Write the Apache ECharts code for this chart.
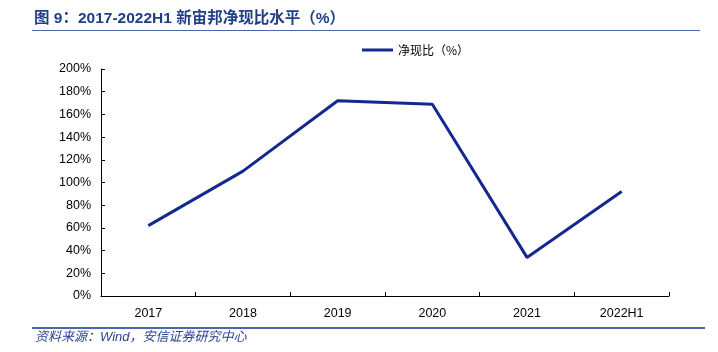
<!DOCTYPE html>
<html>
<head>
<meta charset="utf-8">
<script src="https://cdn.jsdelivr.net/npm/echarts@6/dist/echarts.min.js"></script>
<style>
  html, body { margin: 0; padding: 0; background: #fff; }
  #chart { width: 718px; height: 352px; }
</style>
</head>
<body>
<div id="chart"></div>
<script>
const categories = ['2017', '2018', '2019', '2020', '2021', '2022H1'];
const cashRatio = [62, 110, 172, 169, 34, 92];
const yTicks = [0, 20, 40, 60, 80, 100, 120, 140, 160, 180, 200];

const chart = echarts.init(document.getElementById('chart'));

chart.setOption({
  animation: false,
  title: {
    text: '图 9：2017-2022H1 新宙邦净现比水平（%）',
    left: 34,
    top: 11,
    padding: 0,
    textStyle: {
      fontSize: 15.5,
      fontWeight: 'bold',
      color: '#203f87',
      fontFamily: 'Liberation Sans, Noto Sans CJK SC, sans-serif'
    }
  },
  graphic: [
    { type: 'rect', shape: { x: 32, y: 30, width: 668, height: 1 }, style: { fill: '#4a67ad' } },
    { type: 'rect', shape: { x: 32, y: 327, width: 673, height: 2 }, style: { fill: '#4a67ad' } },
    {
      type: 'text', left: 35, top: 331,
      style: {
        text: '资料来源：Wind，安信证券研究中心',
        fontSize: 13,
        fontStyle: 'italic',
        fill: '#2a4595',
        fontFamily: 'Liberation Sans, Noto Sans CJK SC, sans-serif'
      }
    }
  ],
  legend: {
    top: 44,
    left: 362,
    padding: 0,
    itemWidth: 31,
    itemHeight: 3,
    itemGap: 4,
    icon: 'rect',
    textStyle: { fontSize: 12, color: '#000', fontFamily: 'Noto Sans CJK SC, sans-serif' },
    data: ['净现比（%）']
  },
  grid: { left: 101, right: 49, top: 69, bottom: 56 },
  xAxis: {
    type: 'category',
    data: categories,
    axisLine: { lineStyle: { color: '#000', width: 1 } },
    axisTick: { show: true, length: 4, inside: true, lineStyle: { color: '#000' } },
    axisLabel: { color: '#000', fontSize: 12.5, margin: 11, fontFamily: 'Liberation Sans, sans-serif' }
  },
  yAxis: {
    type: 'value',
    min: yTicks[0],
    max: yTicks[yTicks.length - 1],
    interval: yTicks[1] - yTicks[0],
    axisLine: { show: true, lineStyle: { color: '#000', width: 1 } },
    axisTick: { show: true, inside: true, length: 4, lineStyle: { color: '#000' } },
    splitLine: { show: false },
    axisLabel: { color: '#000', fontSize: 12.5, margin: 10, formatter: '{value}%', fontFamily: 'Liberation Sans, sans-serif' }
  },
  series: [{
    name: '净现比（%）',
    type: 'line',
    data: cashRatio,
    symbol: 'none',
    lineStyle: { color: '#12298f', width: 3 },
    itemStyle: { color: '#12298f' }
  }]
});
</script>
</body>
</html>
